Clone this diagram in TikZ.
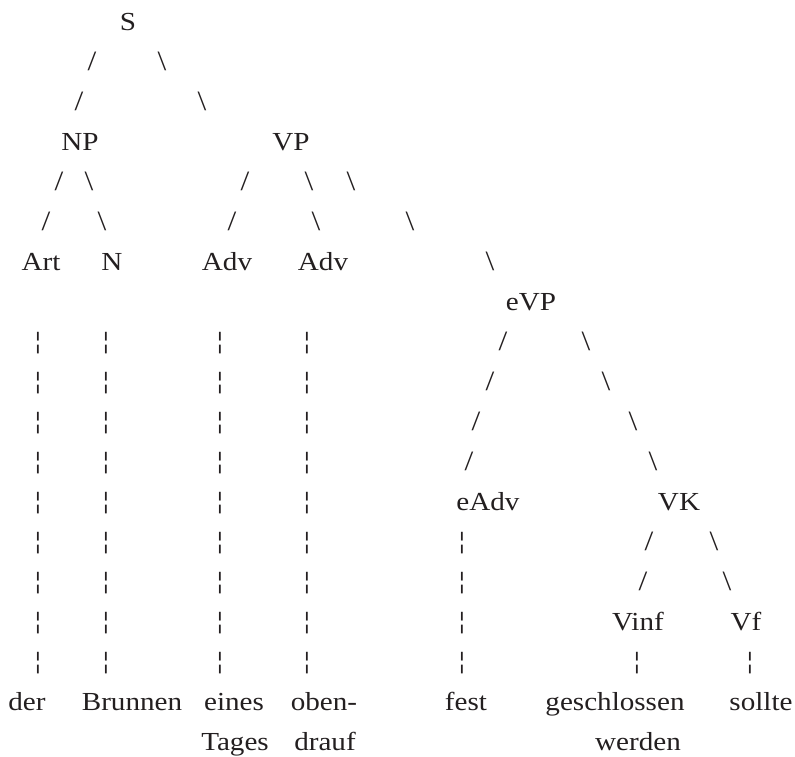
\documentclass[tikz,border=0pt]{standalone}
\usepackage{fontspec}
\setmainfont{Liberation Serif}[FakeStretch=1.12]
\newfontfamily\barfont{PT Sans}
\definecolor{treeink}{RGB}{35,31,32}

\begin{document}
\begin{tikzpicture}[
    x=1pt, y=-1pt,
    word/.style={
        text=treeink,
        font=\fontsize{26}{30}\selectfont,
        inner sep=0pt,
        anchor=base
    },
    branch/.style={
        word,
        font=\fontsize{28}{30}\selectfont
    },
    link/.style={
        word,
        font=\barfont\fontsize{26}{30}\selectfont
    }
]
\useasboundingbox (0,0) rectangle (795,756);

% categories
\node[word] (s) at (128,30) {S};
\node[word] (np) at (80,150) {NP};
\node[word] (vp) at (291,150) {VP};
\node[word] (art) at (41,270) {Art};
\node[word] (n) at (112,270) {N};
\node[word] (adva) at (227,270) {Adv};
\node[word] (advb) at (323,270) {Adv};
\node[word] (evp) at (531,310) {eVP};
\node[word] (eadv) at (488,510) {eAdv};
\node[word] (vk) at (679,510) {VK};
\node[word] (vinf) at (638,630) {Vinf};
\node[word] (vf) at (746,630) {Vf};

% words
\node[word] (der) at (27,710) {der};
\node[word] (brunnen) at (132,710) {Brunnen};
\node[word] (eines) at (234,710) {eines};
\node[word] (oben) at (324,710) {oben-};
\node[word] (fest) at (466,710) {fest};
\node[word] (geschlossen) at (615,710) {geschlossen};
\node[word] (sollte) at (761,710) {sollte};
\node[word] (tages) at (235,750) {Tages};
\node[word] (drauf) at (325,750) {drauf};
\node[word] (werden) at (638,750) {werden};

% branches
\foreach \x/\r [count=\i] in {92/1, 79/2, 59/4, 46/5, 245/4, 232/5, 503/8,
    490/9, 476/10, 469/11, 649/13, 643/14}
    \node[branch] (left\i) at (\x,{30+40*\r}) {/};
\foreach \x/\r [count=\i] in {162/1, 202/2, 89/4, 102/5, 309/4, 316/5,
    351/4, 410/5, 490/6, 586/8, 606/9, 633/10, 653/11, 714/13, 727/14}
    \node[branch] (right\i) at (\x,{30+40*\r}) {\textbackslash};

% lexical links
\foreach \x in {38,106,220,307}
    \foreach \r in {8,...,16}
        \node[link] (bar\x-\r) at (\x,{30+40*\r}) {¦};
\foreach \r in {13,...,16}
    \node[link] (bar462-\r) at (462,{30+40*\r}) {¦};
\node[link] (bar637-16) at (637,670) {¦};
\node[link] (bar750-16) at (750,670) {¦};
\end{tikzpicture}
\end{document}
